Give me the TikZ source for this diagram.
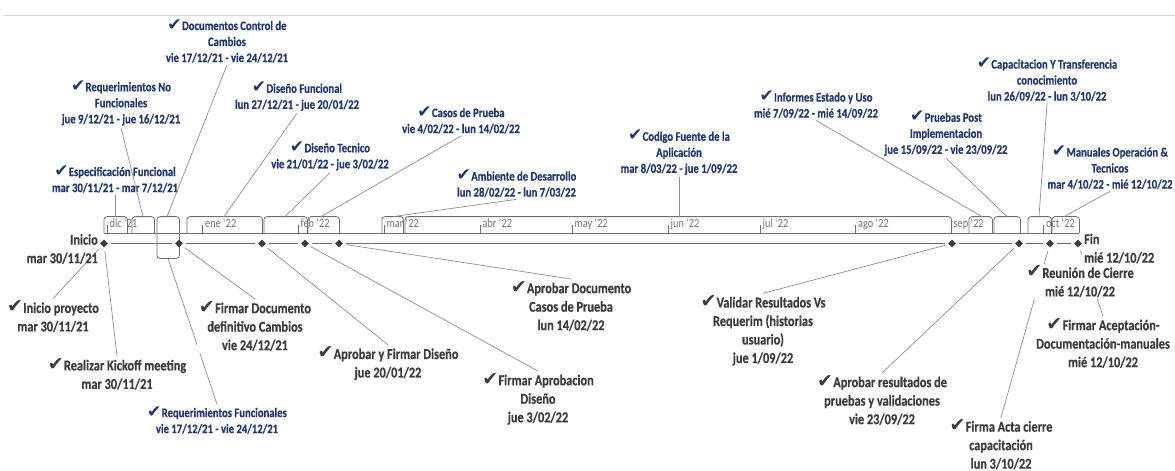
\documentclass[tikz,border=0pt]{standalone}
\usepackage{fontspec}
\setmainfont{Carlito}
\newfontfamily\condfont{Carlito}[FakeStretch=0.82, BoldFeatures={FakeBold=0.5}]
\newfontfamily\symfont{DejaVu Sans}
\usetikzlibrary{shapes.geometric}

\definecolor{navy}{HTML}{22376A}
\definecolor{labgray}{HTML}{3C3C3C}
\definecolor{linegray}{HTML}{8C8C8C}
\definecolor{axisgray}{HTML}{6E6E6E}
\definecolor{mongray}{HTML}{727272}
\definecolor{rulegray}{HTML}{D9D9D9}

% heavy check mark in front of each completed item
\newcommand\donemark[1][17]{{\symfont\bfseries\fontsize{#1}{#1}\selectfont ✔}\kern0.3pt}

\tikzset{
  toplab/.style={text=navy, align=center, inner sep=2pt,
    font=\condfont\bfseries\fontsize{13}{16}\selectfont},
  botlab/.style={text=labgray, align=center, inner sep=2pt,
    font=\condfont\bfseries\fontsize{15}{18.5}\selectfont},
  smalllab/.style={text=navy, align=center, inner sep=2pt,
    font=\condfont\bfseries\fontsize{13}{16}\selectfont},
  month/.style={text=mongray, inner sep=0pt, anchor=base west,
    font=\condfont\fontsize{12.5}{12.5}\selectfont},
  callout/.style={draw=linegray, line width=0.7pt},
  taskbox/.style={draw=none, inner sep=0pt, minimum height=16pt, anchor=south west},
  subbox/.style={draw=none, inner sep=0pt, minimum height=25pt, anchor=north west},
  taskline/.style={draw=axisgray, line width=0.8pt, rounded corners=3pt},
  axisline/.style={draw=axisgray, line width=0.9pt},
  milestone/.style={diamond, fill=labgray, inner sep=0pt, minimum size=8pt},
  msline/.style={draw=axisgray, line width=0.8pt, shorten <=3pt, shorten >=3pt},
  monthtick/.style={draw=axisgray, line width=0.6pt}
}

\begin{document}
\begin{tikzpicture}[x=1pt, y=-1pt]
\useasboundingbox (0,0) rectangle (1175,471);

% header rule
\coordinate (ruleL) at (3,15);
\coordinate (ruleR) at (1175,15);
\draw[draw=rulegray, line width=1pt] (ruleL) -- (ruleR);

% ---------------- task bar ----------------
\node[taskbox, minimum width=23pt]  (t1)  at (104,233) {};
\node[taskbox, minimum width=22pt]  (t2)  at (132,233) {};
\node[taskbox, minimum width=22pt]  (t3)  at (157,233) {};
\node[taskbox, minimum width=75pt]  (t4)  at (187,233) {};
\node[taskbox, minimum width=43pt]  (t5)  at (264,233) {};
\node[taskbox, minimum width=31pt]  (t6)  at (308,233) {};
\node[taskbox, minimum width=21pt]  (t7)  at (382,233) {};
\node[taskbox, minimum width=546pt] (t8)  at (405,233) {};
\node[taskbox, minimum width=23pt]  (t9)  at (969,233) {};
\node[taskbox, minimum width=26pt]  (t10) at (994,233) {};
\node[taskbox, minimum width=23pt]  (t11) at (1028,233) {};
\node[taskbox, minimum width=27pt]  (t12) at (1052,233) {};
\node[subbox,  minimum width=22pt]  (tb)  at (157,233) {};

\foreach \t in {t1,t2,t3,t4,t5,t6,t7,t8,t9,t10,t11,t12}
  \draw[taskline] (\t.south west) -- (\t.north west) -- (\t.north east) -- (\t.south east);
\draw[taskline] (tb.north west) -- (tb.south west) -- (tb.south east) -- (tb.north east);

% month scale
\foreach \mx/\mname/\mid in {107/dic \textquotesingle21/dic, 202.5/ene \textquotesingle22/ene,
    298/feb \textquotesingle22/feb, 384/mar \textquotesingle22/mar, 480/abr \textquotesingle22/abr,
    572/may \textquotesingle22/may, 668/jun \textquotesingle22/jun, 760/jul \textquotesingle22/jul,
    855.5/ago \textquotesingle22/ago, 951/sep \textquotesingle22/sep, 1043.5/oct \textquotesingle22/oct}{
  \coordinate (tick-\mid-a) at (\mx,225);
  \coordinate (tick-\mid-b) at (\mx,233);
  \draw[monthtick] (tick-\mid-a) -- (tick-\mid-b);
  \node[month] (mon-\mid) at (\mx+2.5,227.5) {\mname};
}

\coordinate (axisL) at (104,233);
\coordinate (axisR) at (1079,233);
\draw[axisline] (axisL) -- (axisR);

% ---------------- milestones ----------------
\node[milestone] (m0) at (104,243.5) {};
\node[milestone] (m1) at (179,243.5) {};
\node[milestone] (m2) at (262,243.5) {};
\node[milestone] (m3) at (305,243.5) {};
\node[milestone] (m4) at (339,243.5) {};
\node[milestone] (m5) at (952,243.5) {};
\node[milestone] (m6) at (1019,243.5) {};
\node[milestone] (m7) at (1050,243.5) {};
\node[milestone] (m8) at (1078,243.5) {};
\foreach \a/\b in {m0/m1,m1/m2,m2/m3,m3/m4,m4/m5,m5/m6,m6/m7,m7/m8}
  \draw[msline] (\a) -- (\b);

% ---------------- task labels (above) ----------------
\node[toplab] (L1)  at (115,179)   {\donemark Especificación Funcional\\mar 30/11/21 - mar 7/12/21};
\node[toplab] (L2)  at (121,103)   {\donemark Requerimientos No\\Funcionales\\jue 9/12/21 - jue 16/12/21};
\node[toplab] (L3)  at (227,41)    {\donemark Documentos Control de\\Cambios\\vie 17/12/21 - vie 24/12/21};
\node[toplab] (L4)  at (297,96.5)  {\donemark Diseño Funcional\\lun 27/12/21 - jue 20/01/22};
\node[toplab] (L5)  at (330,156)   {\donemark Diseño Tecnico\\vie 21/01/22 - jue 3/02/22};
\node[toplab] (L6)  at (461,120)   {\donemark Casos de Prueba\\vie 4/02/22 - lun 14/02/22};
\node[toplab] (L7)  at (516.5,183.5) {\donemark Ambiente de Desarrollo\\lun 28/02/22 - lun 7/03/22};
\node[toplab] (L8)  at (679,152.5) {\donemark Codigo Fuente de la\\Aplicación\\mar 8/03/22 - jue 1/09/22};
\node[toplab] (L9)  at (816,104.5) {\donemark Informes Estado y Uso\\mié 7/09/22 - mié 14/09/22};
\node[toplab] (L10) at (946,133.5) {\donemark Pruebas Post\\Implementacion\\jue 15/09/22 - vie 23/09/22};
\node[toplab] (L11) at (1047,79.5) {\donemark Capacitacion Y Transferencia\\conocimiento\\lun 26/09/22 - lun 3/10/22};
\node[toplab] (L12) at (1110,167.5) {\donemark Manuales Operación \&\\Tecnicos\\mar 4/10/22 - mié 12/10/22};

\draw[callout] (L1.south)  -- ([xshift=11pt]t1.north west);
\draw[callout] (L2.south)  -- ([xshift=11pt]t2.north west);
\draw[callout] (L3.south)  -- ([xshift=10pt]t3.north west);
\draw[callout] (L4.south)  -- ([xshift=37pt]t4.north west);
\draw[callout] (L5.south)  -- ([xshift=21pt]t5.north west);
\draw[callout] (L6.south)  -- ([xshift=13pt]t6.north west);
\draw[callout] (L7.south)  -- ([xshift=11pt]t7.north west);
\draw[callout] (L8.south)  -- ([xshift=274pt]t8.north west);
\draw[callout] (L9.south)  -- ([xshift=13pt]t9.north west);
\draw[callout] (L10.south) -- ([xshift=13pt]t10.north west);
\draw[callout] (L11.south) -- ([xshift=11pt]t11.north west);
\draw[callout] (L12.south) -- ([xshift=12pt]t12.north west);

% ---------------- milestone labels (below) ----------------
\node[botlab] (B1)  at (53,316.5)  {\donemark[19]Inicio proyecto\\mar 30/11/21};
\node[botlab] (B2)  at (117,374)   {\donemark[19]Realizar Kickoff meeting\\mar 30/11/21};
\node[smalllab] (B3) at (217,420)  {\donemark Requerimientos Funcionales\\vie 17/12/21 - vie 24/12/21};
\node[botlab] (B5)  at (388,363.5) {\donemark[19]Aprobar y Firmar Diseño\\jue 20/01/22};
\node[botlab] (B6)  at (538,399)   {\donemark[19]Firmar Aprobacion\\Diseño\\jue 3/02/22};
\node[botlab] (B7)  at (571,306)   {\donemark[19]Aprobar Documento\\Casos de Prueba\\lun 14/02/22};
\node[botlab] (B8)  at (763,330.5) {\donemark[19]Validar Resultados Vs\\Requerim (historias\\usuario)\\jue 1/09/22};
\node[botlab] (B9)  at (882,400)   {\donemark[19]Aprobar resultados de\\pruebas y validaciones\\vie 23/09/22};
\node[botlab] (B10) at (1001,444.5) {\donemark[19]Firma Acta cierre\\capacitación\\lun 3/10/22};
\node[botlab] (B12) at (1103,343)  {\donemark[19]Firmar Aceptación-\\Documentación-manuales\\mié 12/10/22};

\draw[callout, shorten <=4pt] (m0) -- (B1.north);
\draw[callout, shorten <=4pt] (m0) -- (B2.north);
\draw[callout] ([xshift=11pt]tb.south west) -- (B3.north);
\draw[callout, shorten <=4pt] (m2) -- (B5.north);
\draw[callout, shorten <=4pt] (m3) -- (B6.north);
\draw[callout, shorten <=4pt] (m4) -- (B7.north);
\draw[callout, shorten <=4pt] (m5) -- (B8.north);
\draw[callout, shorten <=4pt] (m6) -- (B9.north);
\draw[callout, shorten <=4pt] (m7) -- (B10.north);
\draw[callout, shorten <=4pt] (m8) -- (B12.north);

% labels that sit on top of the callouts
\node[botlab, fill=white] (B4) at (255,326) {\donemark[19]Firmar Documento\\definitivo Cambios\\vie 24/12/21};
\draw[callout, shorten <=4pt] (m1) -- (B4.north);
\node[botlab, fill=white] (B11) at (1080,281.5) {\donemark[19]Reunión de Cierre\\mié 12/10/22};

% start and finish
\node[botlab, align=right, anchor=east] (start) at (100,249) {Inicio\\mar 30/11/21};
\node[botlab, align=left, anchor=west, fill=white] (finish) at (1082,248.5) {Fin\\mié 12/10/22};
\end{tikzpicture}
\end{document}
